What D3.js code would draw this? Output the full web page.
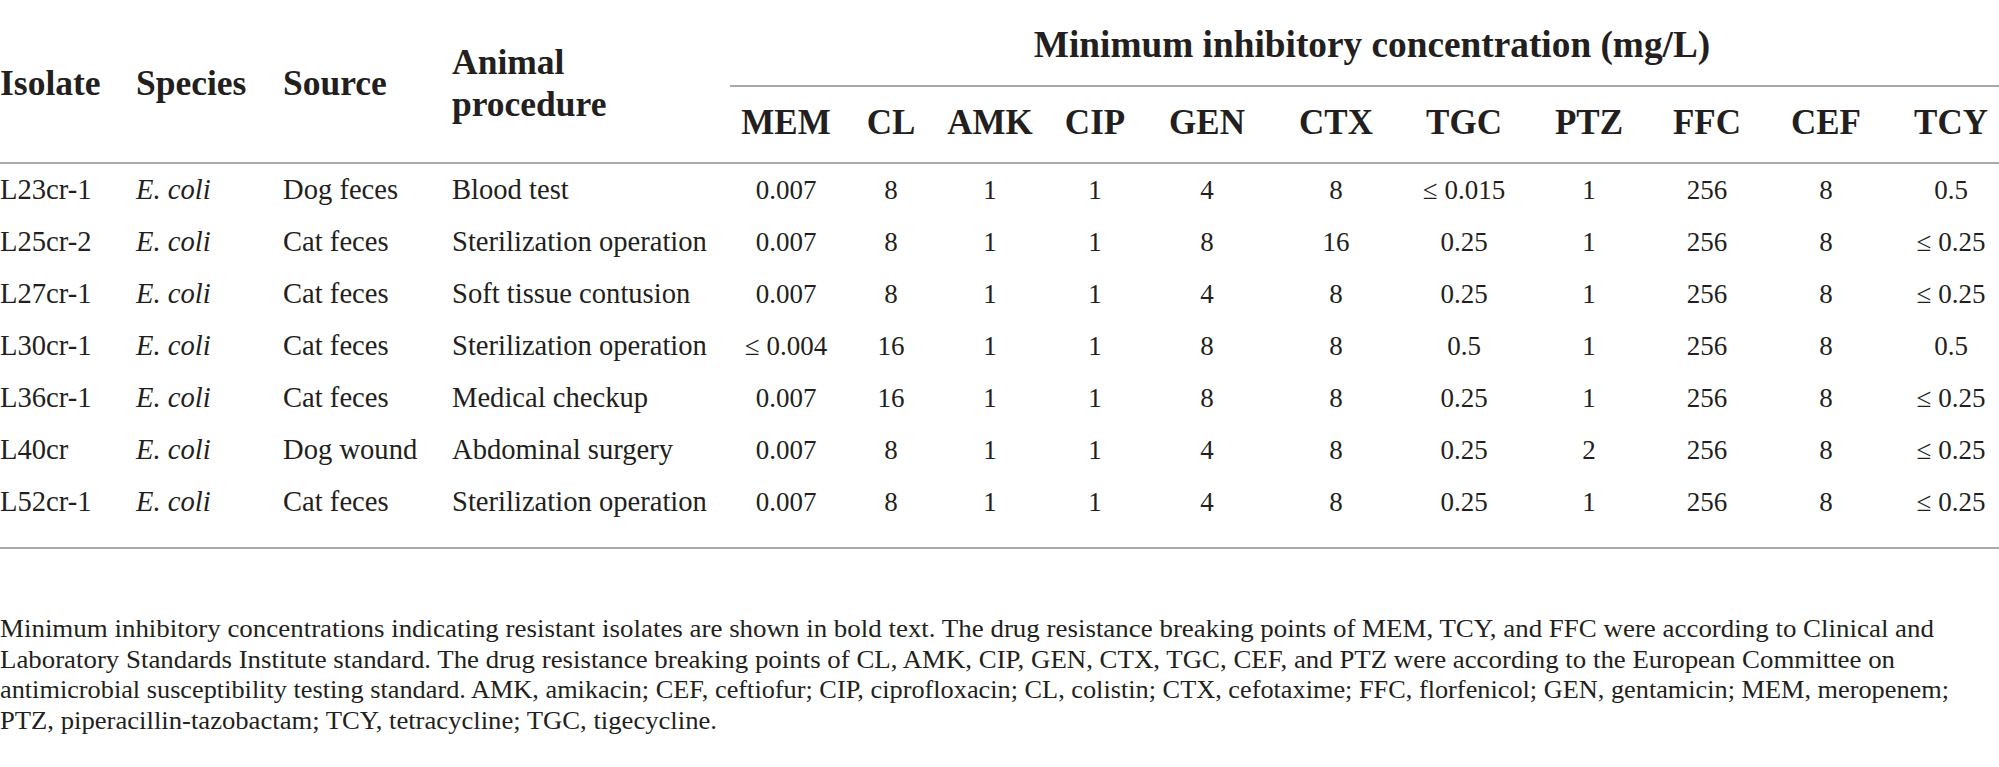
<!DOCTYPE html>
<html>
<head>
<meta charset="utf-8">
<script src="https://cdn.jsdelivr.net/npm/d3@7"></script>
<style>
  body { margin: 0; background: #fff; }
  svg { display: block; }
  text { font-family: "Liberation Serif", "Times New Roman", serif; fill: #231f20; }
</style>
</head>
<body>
<svg id="svg" width="1999" height="767"></svg>
<script>
// table content
const isolates = ["L23cr-1", "L25cr-2", "L27cr-1", "L30cr-1", "L36cr-1", "L40cr", "L52cr-1"];
const species = ["E. coli", "E. coli", "E. coli", "E. coli", "E. coli", "E. coli", "E. coli"];
const sources = ["Dog feces", "Cat feces", "Cat feces", "Cat feces", "Cat feces", "Dog wound", "Cat feces"];
const procedures = ["Blood test", "Sterilization operation", "Soft tissue contusion", "Sterilization operation",
    "Medical checkup", "Abdominal surgery", "Sterilization operation"];
const drugs = ["MEM", "CL", "AMK", "CIP", "GEN", "CTX", "TGC", "PTZ", "FFC", "CEF", "TCY"];
// MIC values (mg/L), one array per isolate, same order as drugs
const mic = [
    ["0.007", "8", "1", "1", "4", "8", "\u2264 0.015", "1", "256", "8", "0.5"],
    ["0.007", "8", "1", "1", "8", "16", "0.25", "1", "256", "8", "\u2264 0.25"],
    ["0.007", "8", "1", "1", "4", "8", "0.25", "1", "256", "8", "\u2264 0.25"],
    ["\u2264 0.004", "16", "1", "1", "8", "8", "0.5", "1", "256", "8", "0.5"],
    ["0.007", "16", "1", "1", "8", "8", "0.25", "1", "256", "8", "\u2264 0.25"],
    ["0.007", "8", "1", "1", "4", "8", "0.25", "2", "256", "8", "\u2264 0.25"],
    ["0.007", "8", "1", "1", "4", "8", "0.25", "1", "256", "8", "\u2264 0.25"]
];
const groupTitle = "Minimum inhibitory concentration (mg/L)";
const leftHeaders = ["Isolate", "Species", "Source"];
const footnote = [
    "Minimum inhibitory concentrations indicating resistant isolates are shown in bold text. The drug resistance breaking points of MEM, TCY, and FFC were according to Clinical and",
    "Laboratory Standards Institute standard. The drug resistance breaking points of CL, AMK, CIP, GEN, CTX, TGC, CEF, and PTZ were according to the European Committee on",
    "antimicrobial susceptibility testing standard. AMK, amikacin; CEF, ceftiofur; CIP, ciprofloxacin; CL, colistin; CTX, cefotaxime; FFC, florfenicol; GEN, gentamicin; MEM, meropenem;",
    "PTZ, piperacillin-tazobactam; TCY, tetracycline; TGC, tigecycline."
];

const W = 1999;
const svg = d3.select("#svg");
const ruleColor = "#a7a9ac";

// layout scales
const leftX = d3.scaleOrdinal().domain(["isolate", "species", "source", "procedure"]).range([0, 136, 283, 452]);
const drugX = d3.scaleOrdinal().domain(drugs).range([786, 891, 990, 1095, 1207, 1336, 1464, 1589, 1707, 1826, 1951]);
const rowY = d3.scalePoint().domain(isolates).range([199, 511]);
const noteY = d3.scalePoint().domain(d3.range(footnote.length)).range([637, 729]);

function rule(y, x0, x1) {
    svg.append("line")
        .attr("x1", x0).attr("x2", x1)
        .attr("y1", y).attr("y2", y)
        .attr("stroke", ruleColor)
        .attr("stroke-width", 2.2);
}

// header
const head = svg.append("g").attr("font-weight", "bold").attr("font-size", 35.5);
head.append("text")
    .attr("x", 1372).attr("y", 57)
    .attr("text-anchor", "middle")
    .attr("font-size", 37.3)
    .text(groupTitle);
head.selectAll("text.lh")
    .data(leftHeaders)
    .join("text")
    .attr("class", "lh")
    .attr("x", (d, i) => leftX.range()[i])
    .attr("y", 95)
    .text(d => d);
head.append("text").attr("x", leftX("procedure")).attr("y", 74).text("Animal");
head.append("text").attr("x", leftX("procedure")).attr("y", 116).text("procedure");
head.selectAll("text.dh")
    .data(drugs)
    .join("text")
    .attr("class", "dh")
    .attr("x", d => drugX(d))
    .attr("y", 134)
    .attr("font-size", 35)
    .attr("text-anchor", "middle")
    .text(d => d);

rule(86, 730, W);
rule(163, 0, W);

// body rows
const body = svg.append("g").attr("font-size", 28.6);
const rows = body.selectAll("g.row")
    .data(isolates)
    .join("g")
    .attr("class", "row")
    .attr("transform", d => `translate(0,${rowY(d)})`);
rows.append("text").attr("x", leftX("isolate")).text(d => d);
rows.append("text").attr("x", leftX("species")).attr("font-style", "italic").text((d, i) => species[i]);
rows.append("text").attr("x", leftX("source")).text((d, i) => sources[i]);
rows.append("text").attr("x", leftX("procedure")).text((d, i) => procedures[i]);
rows.each(function (d, i) {
    d3.select(this).selectAll("text.v")
        .data(mic[i])
        .join("text")
        .attr("class", "v")
        .attr("x", (v, j) => drugX(drugs[j]))
        .attr("font-size", 27)
        .attr("text-anchor", "middle")
        .text(v => v);
});

rule(548, 0, W);

// footnote
const noteWidths = [1934, 1895, 1949, 717];
svg.append("g").attr("font-size", 24.5)
    .selectAll("text")
    .data(footnote)
    .join("text")
    .attr("x", 0)
    .attr("y", (d, i) => noteY(i))
    .text(d => d)
    .attr("textLength", (d, i) => noteWidths[i])
    .attr("lengthAdjust", "spacingAndGlyphs");
</script>
</body>
</html>
